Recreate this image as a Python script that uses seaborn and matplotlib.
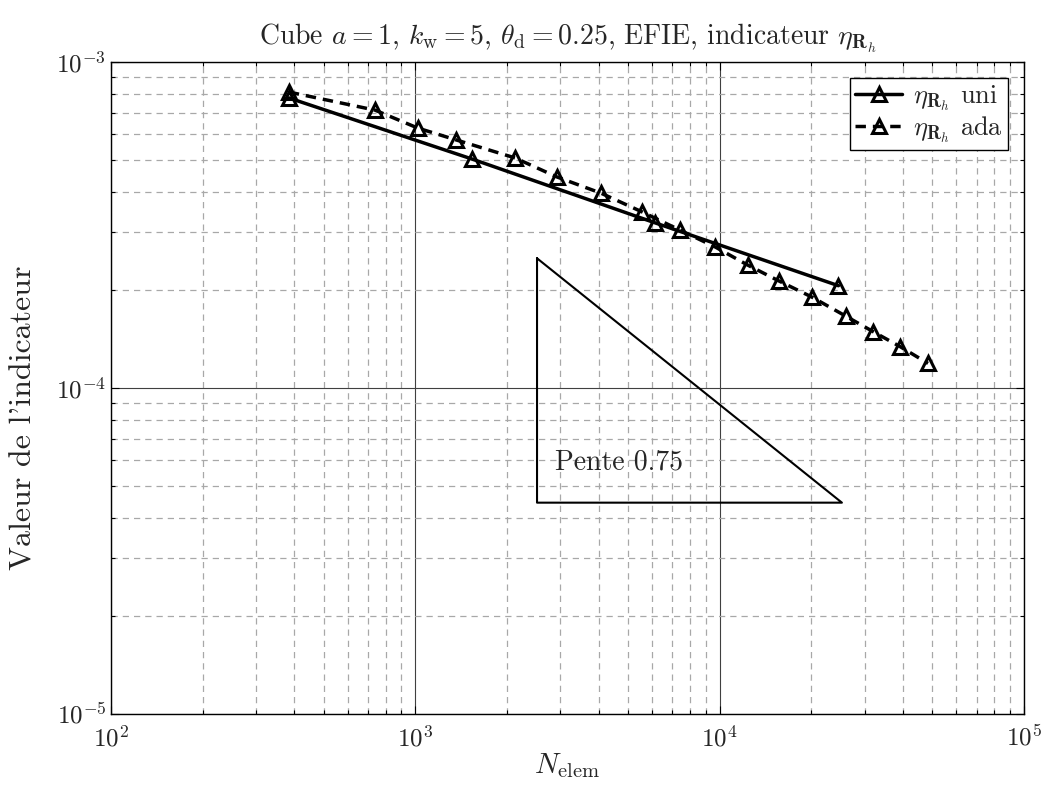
import numpy as np
import pandas as pd
import seaborn as sns
import matplotlib
matplotlib.use("Agg")
import matplotlib.pyplot as plt
from matplotlib.ticker import LogLocator, NullFormatter

# valeurs
n_uni = [384, 1536, 6144, 24576]
eta_uni = [7.76e-4, 5.04e-4, 3.21e-4, 2.06e-4]

n_ada = [384, 737, 1020, 1361, 2126, 2922, 4076, 5560, 7410, 9660,
         12400, 15670, 20130, 26020, 31920, 39170, 48400]
eta_ada = [8.09e-4, 7.12e-4, 6.27e-4, 5.77e-4, 5.08e-4, 4.44e-4, 3.96e-4,
           3.47e-4, 3.05e-4, 2.71e-4, 2.38e-4, 2.13e-4, 1.90e-4, 1.66e-4,
           1.49e-4, 1.34e-4, 1.19e-4]

# triangle de pente
tri_x = [2512, 2512, 25230, 2512]
tri_y = [2.50e-4, 4.45e-5, 4.45e-5, 2.50e-4]

df_uni = pd.DataFrame({"N": n_uni, "eta": eta_uni})
df_ada = pd.DataFrame({"N": n_ada, "eta": eta_ada})

sns.set_style("ticks")
plt.rcParams['font.family'] = ['cmr10', 'DejaVu Serif']
plt.rcParams['mathtext.fontset'] = 'cm'
plt.rcParams['axes.unicode_minus'] = False
plt.rcParams['axes.formatter.use_mathtext'] = True

fig = plt.figure(figsize=(10.46, 7.85), dpi=100)
ax = fig.add_axes([0.1061, 0.0904, 0.8728, 0.8306])
ax.set_xscale('log')
ax.set_yscale('log')

sns.lineplot(data=df_uni, x="N", y="eta", ax=ax, color='black', lw=2.5,
             marker='^', markersize=10, markerfacecolor='none',
             markeredgecolor='black', markeredgewidth=2.2,
             label=r"$\eta_{\mathbf{R}_h}$ uni", zorder=5)
sns.lineplot(data=df_ada, x="N", y="eta", ax=ax, color='black', lw=2.5,
             linestyle=(0, (3, 2)), marker='^', markersize=10,
             markerfacecolor='none', markeredgecolor='black',
             markeredgewidth=2.2, label=r"$\eta_{\mathbf{R}_h}$ ada", zorder=5)

ax.plot(tri_x, tri_y, color='black', lw=1.5, zorder=4)
ax.text(2878, 5.93e-5, "Pente 0.75", fontsize=20, ha='left', va='center')

ax.set_xlim(1e2, 1e5)
ax.set_ylim(1e-5, 1e-3)
ax.xaxis.set_major_locator(LogLocator(base=10, numticks=10))
ax.xaxis.set_minor_locator(LogLocator(base=10, subs=np.arange(2, 10), numticks=20))
ax.yaxis.set_major_locator(LogLocator(base=10, numticks=10))
ax.yaxis.set_minor_locator(LogLocator(base=10, subs=np.arange(2, 10), numticks=20))
ax.xaxis.set_minor_formatter(NullFormatter())
ax.yaxis.set_minor_formatter(NullFormatter())

ax.grid(which='major', color='#404040', linestyle='-', linewidth=0.8)
ax.grid(which='minor', color='#a8a8a8', linestyle=(0, (5, 4)), linewidth=0.9)
ax.set_axisbelow(True)

ax.tick_params(which='both', direction='in', top=True, right=True,
               labelsize=18, color='black')
ax.tick_params(axis='x', which='major', pad=8)
ax.tick_params(which='major', length=6, width=0.8)
ax.tick_params(which='minor', length=3, width=0.8)
for s in ax.spines.values():
    s.set_color('black')
    s.set_linewidth(1.0)

ax.set_title(r"Cube $a=1$, $k_{\mathrm{w}}=5$, $\theta_{\mathrm{d}}=0.25$, EFIE, indicateur $\eta_{\mathbf{R}_h}$",
             fontsize=20, pad=12)
ax.set_xlabel(r"$N_{\mathrm{elem}}$", fontsize=21, labelpad=0)
ax.set_ylabel("Valeur de l'indicateur", fontsize=23)
ax.yaxis.set_label_coords(-0.081, 0.455)

leg = ax.legend(loc='upper right', fontsize=19, frameon=True, fancybox=False,
                edgecolor='black', framealpha=1, handlelength=1.8,
                borderaxespad=0.6, borderpad=0.2, labelspacing=0.05,
                handletextpad=0.4)
leg.get_frame().set_linewidth(1.0)

fig.savefig("out.png", dpi=100)
